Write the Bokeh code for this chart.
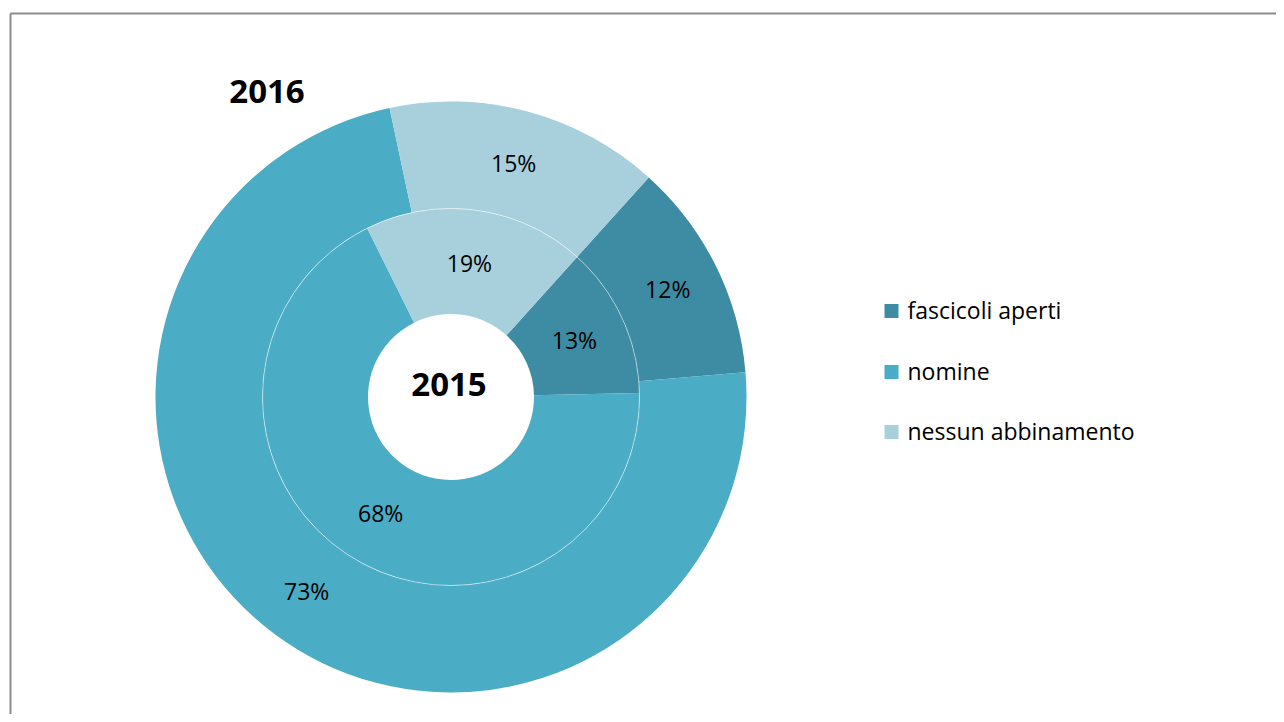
import math
from bokeh.plotting import figure
from bokeh.models import ColumnDataSource, Range1d
from bokeh.core.properties import value
from bokeh.embed import file_html
from bokeh.resources import INLINE

# ---- data ----
categories = ["fascicoli aperti", "nomine", "nessun abbinamento"]
values_2016 = [12, 73, 15]   # outer ring
values_2015 = [13, 68, 19]   # inner ring
ring_titles = ["2016", "2015"]

# ---- style ----
colors = ["#3D8CA4", "#4BACC6", "#A8CFDC"]
W, H = 1276, 714
cx, cy = 450.5, 317.5
r_hole, r_mid, r_out = 83, 188.5, 295.5
first_slice_deg = 42
FONT = "Open Sans"

p = figure(width=W, height=H, output_backend="svg", toolbar_location=None,
           x_range=Range1d(0, W), y_range=Range1d(0, H), min_border=0)
p.axis.visible = False
p.grid.visible = False
p.outline_line_color = None
p.background_fill_color = "white"
p.border_fill_color = "white"

# chart-area border (left and top visible)
p.multi_line(xs=[[10, 10], [10, W + 20]], ys=[[-20, 701], [701, 701]],
             line_color="#8C8C8C", line_width=2)


def ring(values, r0, r1):
    total = float(sum(values))
    starts, ends, lx, ly, labels = [], [], [], [], []
    acc = first_slice_deg
    rm = (r0 + r1) / 2.0
    for v in values:
        a0 = acc
        a1 = acc + v / total * 360.0
        acc = a1
        starts.append(math.radians(90 - a0))
        ends.append(math.radians(90 - a1))
        mid = math.radians((a0 + a1) / 2.0)
        lx.append(cx + rm * math.sin(mid))
        ly.append(cy + rm * math.cos(mid))
        labels.append(f"{v}%")
    return ColumnDataSource(dict(start=starts, end=ends, color=colors,
                                 lx=lx, ly=ly, label=labels, cat=categories))


src_out = ring(values_2016, r_mid, r_out)
src_in = ring(values_2015, r_hole, r_mid)

for src, r0, r1 in [(src_out, r_mid, r_out), (src_in, r_hole, r_mid)]:
    p.annular_wedge(x=cx, y=cy, inner_radius=r0, outer_radius=r1,
                    start_angle="start", end_angle="end", direction="clock",
                    fill_color="color", line_color=None, source=src)

# faint separator between rings
p.circle(x=[cx], y=[cy], radius=r_mid, fill_color=None,
         line_color="white", line_alpha=0.5, line_width=1)

for src in (src_out, src_in):
    p.text(x="lx", y="ly", text="label", source=src,
           text_font=value(FONT), text_font_size="23px", text_color="black",
           text_align="center", text_baseline="middle")

# ring titles
p.text(x=[266.5, 448.5], y=[623, 330], text=ring_titles,
       text_font=value(FONT), text_font_size="33px", text_font_style="bold",
       text_color="black", text_align="center", text_baseline="middle")

# legend
leg_x = 891
leg_y = [403.5, 342.5, 282.5]
p.scatter(x=[leg_x] * 3, y=leg_y, marker="square", size=14,
          fill_color=colors, line_color=None)
p.text(x=[leg_x + 16] * 3, y=[v + 1 for v in leg_y], text=categories,
       text_font=value(FONT), text_font_size="23px", text_color="black",
       text_align="left", text_baseline="middle")

open("out.html", "w").write(file_html(p, INLINE))
